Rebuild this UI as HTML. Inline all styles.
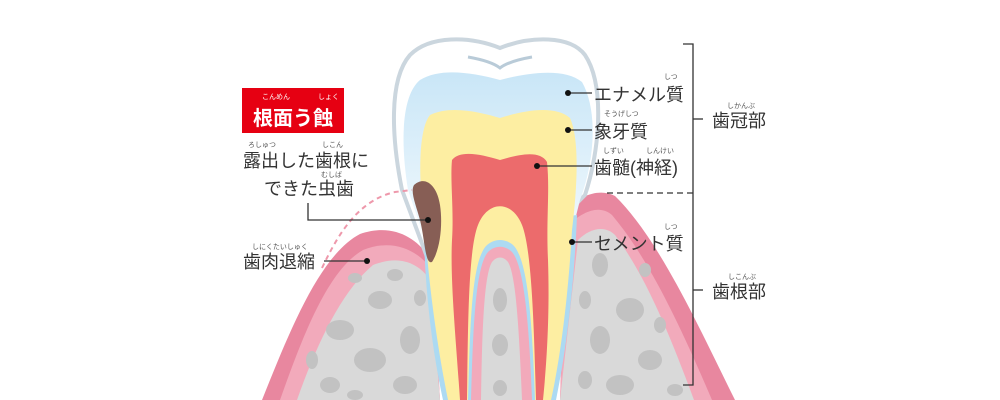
<!DOCTYPE html>
<html><head><meta charset="utf-8"><style>
html,body{margin:0;padding:0;background:#fff}
svg{display:block}
text{font-family:"Liberation Sans","Noto Sans CJK JP",sans-serif;fill:#333}
.r{font-size:7px;fill:#555}
.l{font-size:18px}
</style></head><body>
<svg width="1000" height="400" viewBox="0 0 1000 400" xmlns="http://www.w3.org/2000/svg">
<defs>
<linearGradient id="en" x1="0" y1="0" x2="0" y2="1">
<stop offset="0" stop-color="#c9e6f7"/><stop offset="1" stop-color="#f2f9fd"/></linearGradient>
</defs>
<path d="M262,400 C290,330 320,255 360,234 C395,222 420,240 432,262 L440,400 Z" fill="#e8879f"/>
<path d="M280,400 C303,335 328,270 363,250 C393,238 418,250 432,270 L440,400 Z" fill="#f2aabb"/>
<path d="M297,400 C318,340 343,290 373,265 C398,255 418,262 430,280 L440,400 Z" fill="#d9d9d9"/>
<path d="M566,210 C580,195 600,188 615,196 C660,240 700,330 735,400 L560,400 Z" fill="#e8879f"/>
<path d="M568,225 C585,210 600,205 612,215 C650,260 682,330 712,400 L560,400 Z" fill="#f2aabb"/>
<path d="M578,240 C590,228 605,225 615,235 C645,275 668,330 694,400 L560,400 Z" fill="#d9d9d9"/>
<path d="M402,190 C392,140 388,80 410,55 C430,35 470,36 500,48 C530,36 570,35 585,55 C605,85 600,150 585,195 C575,205 570,210 566,215 L430,265 Z" fill="#fff" stroke="#cbd6de" stroke-width="4"/>
<path d="M468,57 C485,60 495,64 500,68 C505,64 515,60 532,57" fill="none" stroke="#b9cbd8" stroke-width="3"/>
<path d="M408,190 C400,140 402,95 420,80 C440,68 470,72 500,80 C530,72 565,68 582,82 C598,110 595,160 580,200 L570,240 L425,240 Z" fill="url(#en)"/>
<path d="M424,235 C425,290 432,350 443,400 L556,400 C566,350 574,290 577,215 Z" fill="#acdaf2"/>
<path d="M425,230 C418,180 418,130 430,115 C450,105 480,112 500,118 C525,110 555,105 570,118 C580,140 577,190 572,230 C568,300 560,360 551,400 L448,400 C440,360 430,300 425,230 Z" fill="#fdeea2"/>
<path d="M452,160 C460,150 480,154 500,160 C520,154 540,150 547,162 C550,190 546,220 548,260 C550,320 546,370 543,400 L536,400 C534,330 532,250 522,225 C512,200 488,200 478,225 C468,250 468,330 467,400 L460,400 C456,340 450,280 452,240 C454,210 450,180 452,160 Z" fill="#ec6b6c"/>
<path d="M468,400 C470,320 472,262 486,246 C494,238 506,238 514,246 C528,262 532,320 535,400 Z" fill="#acdaf2"/>
<path d="M471,400 C473,322 476,266 488,252 C495,245 505,245 512,252 C524,266 529,322 532,400 Z" fill="#f2aabb"/>
<path d="M481,400 C482,330 484,275 492,262 C497,256 503,256 508,262 C516,275 519,330 522,400 Z" fill="#d9d9d9"/>
<g fill="#c2c2c2">
<ellipse cx="340" cy="330" rx="14" ry="10"/><ellipse cx="380" cy="300" rx="12" ry="9"/><ellipse cx="370" cy="360" rx="16" ry="12"/><ellipse cx="410" cy="340" rx="10" ry="14"/><ellipse cx="330" cy="385" rx="10" ry="8"/><ellipse cx="405" cy="385" rx="12" ry="9"/><ellipse cx="355" cy="278" rx="7" ry="5"/><ellipse cx="420" cy="298" rx="6" ry="8"/><ellipse cx="395" cy="275" rx="8" ry="6"/><ellipse cx="312" cy="360" rx="6" ry="9"/><ellipse cx="355" cy="395" rx="8" ry="5"/>
<ellipse cx="500" cy="300" rx="7" ry="12"/><ellipse cx="500" cy="345" rx="8" ry="11"/><ellipse cx="500" cy="388" rx="7" ry="8"/>
<ellipse cx="600" cy="265" rx="8" ry="12"/><ellipse cx="630" cy="310" rx="14" ry="12"/><ellipse cx="600" cy="340" rx="10" ry="14"/><ellipse cx="650" cy="360" rx="12" ry="10"/><ellipse cx="620" cy="385" rx="14" ry="10"/><ellipse cx="645" cy="270" rx="6" ry="7"/><ellipse cx="675" cy="390" rx="8" ry="6"/><ellipse cx="660" cy="325" rx="6" ry="8"/><ellipse cx="585" cy="300" rx="6" ry="9"/><ellipse cx="585" cy="380" rx="7" ry="9"/>
</g>
<path d="M414,185 C425,175 437,185 440,205 C443,225 440,250 432,262 C425,265 425,240 420,220 C416,205 410,192 414,185 Z" fill="#875e55"/>
<path d="M322,268 C340,230 360,200 395,192 L412,190" fill="none" stroke="#ee98ab" stroke-width="2" stroke-dasharray="5,4"/>
<rect x="242" y="88" width="102" height="45" fill="#e60012"/>
<text x="262" y="99" font-size="7" style="fill:#fff">こんめん</text>
<text x="318" y="99" font-size="7" style="fill:#fff">しょく</text>
<text x="253" y="125" font-size="20" font-weight="bold" style="fill:#fff">根面う蝕</text>
<text x="248" y="147" class="r">ろしゅつ</text><text x="322" y="147" class="r">しこん</text>
<text x="243" y="167" class="l">露出した歯根に</text>
<text x="321" y="177" class="r">むしば</text>
<text x="264" y="195" class="l">できた虫歯</text>
<text x="252" y="249" class="r">しにくたいしゅく</text>
<text x="243" y="268" class="l">歯肉退縮</text>
<g stroke="#333" stroke-width="1.3" fill="none">
<path d="M308,203 V220 H428"/><path d="M324,261 H367"/>
<path d="M568,93 H592"/><path d="M568,130 H592"/><path d="M537,166 H592"/><path d="M572,242 H592"/>
<path d="M683,44 H693 V385 H683"/><path d="M693,119 H703"/><path d="M693,290 H703"/>
</g>
<path d="M607,193 H693" stroke="#333" stroke-width="1.3" stroke-dasharray="6,4"/>
<g fill="#111"><circle cx="428" cy="220" r="3"/><circle cx="367" cy="261" r="3"/><circle cx="568" cy="93" r="3"/><circle cx="568" cy="130" r="3"/><circle cx="537" cy="166" r="3"/><circle cx="572" cy="242" r="3"/></g>
<text x="664" y="79" class="r">しつ</text><text x="594" y="101" class="l">エナメル質</text>
<text x="604" y="116" class="r">そうげしつ</text><text x="594" y="138" class="l">象牙質</text>
<text x="603" y="153" class="r">しずい</text><text x="646" y="153" class="r">しんけい</text>
<text x="594" y="174" class="l">歯髄(神経)</text>
<text x="664" y="229" class="r">しつ</text><text x="594" y="250" class="l">セメント質</text>
<text x="727" y="108" class="r">しかんぶ</text><text x="712" y="127" class="l">歯冠部</text>
<text x="728" y="279" class="r">しこんぶ</text><text x="712" y="298" class="l">歯根部</text>
</svg>
</body></html>
